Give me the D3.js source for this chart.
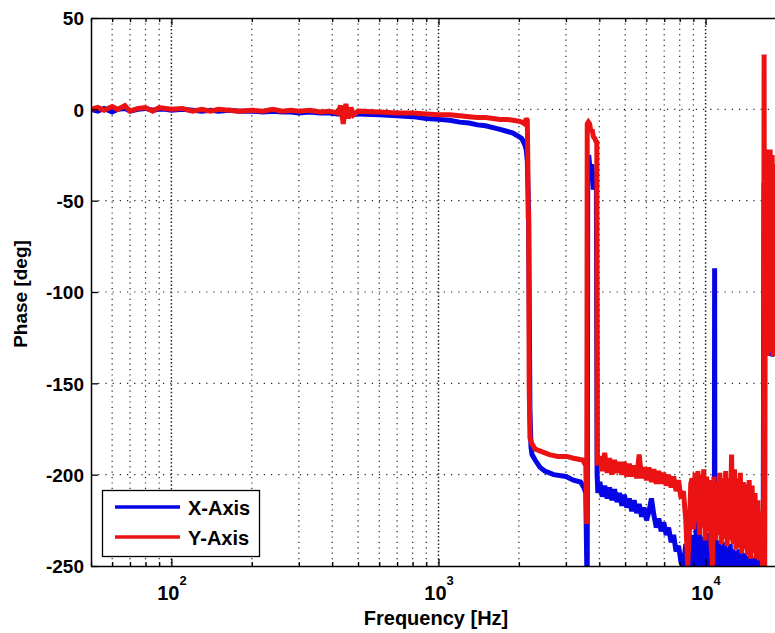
<!DOCTYPE html>
<html><head><meta charset="utf-8">
<script src="https://cdn.jsdelivr.net/npm/d3@7/dist/d3.min.js"></script>
<style>body{margin:0;background:#fff}svg{display:block}</style>
</head><body>
<svg id="chart" width="775" height="633"></svg>
<script>
// ---------- data ----------
const xAxisFreq = [50,53,56,60,63,67,70,75,80,85,90,95,100,110,120,130,140,150,165,180,200,220,240,260,280,300,330,360,390,420,440,460,480,500,600,700,800,900,1000,1100,1200,1300,1400,1500,1600,1700,1800,1900,2000,2050,2100,2130,2150,2165,2175,2185,2200,2220,2240,2300,2400,2500,2700,3000,3200,3400,3500,3560,3590,3605,3620,3650,3700,3750,3800,3850,3900,3925,3950,
  4018,4100,4190,4280,4370,4460,4560,4660,4760,4860,4960,5070,5180,5290,5400,5520,5640,5760,5880,6010,6140,6270,6400,6540,6680,6820,6970,7120,7270,7430,7590,7750,7920,8090,8260,8430,8570,8700,
  8900,9010,9130,9240,9360,9480,9600,9720,9840,9970,10100,10230,10350,10480,10620,10750,10780,10810,10840,10890,11030,11170,11310,11450,11600,11740,11890,12040,12200,12350,12510,12670,12830,12990,13160,13320,13490,13660,13840,14010,14190,14370,14560,14740,14930,15120,15310,15500,15700,15900,16100,16300,16420,
  16550,16650,16750,16850,16950,17100,17300,17500,17700,18000,18500,19000,20000];
const xAxisPhase = [0,-1,0.5,-1.5,0,0.5,-1,0,0.5,-0.5,0,0,-0.5,0,-0.5,-1,-0.5,-1,-0.5,-1,-1,-1.5,-1,-1.5,-1.5,-2,-1.5,-2,-2,-2.5,-3,-2,-3,-2.5,-3,-3.5,-4,-5,-5.5,-6,-7,-7.5,-8.5,-9,-10,-11,-12,-13,-15,-16,-19,-22,-28,-45,-60,-100,-165,-185,-189,-192,-196,-198,-200,-201,-203,-204,-207,-210,-250,-250,-40,-25,-34,-30,-44,-35,-40,-200,-210,
  -204,-212,-206,-213,-207,-214,-208,-215,-210,-217,-211,-218,-213,-220,-214,-221,-216,-223,-218,-225,-220,-213,-222,-229,-224,-231,-226,-233,-229,-237,-233,-242,-239,-248,-250,-238,-250,-240,
  -250,-233,-250,-226,-250,-231,-250,-234,-250,-236,-250,-232,-250,-237,-250,-235,-250,-87,-250,-238,-250,-236,-250,-239,-250,-237,-250,-240,-250,-238,-250,-241,-250,-242,-250,-241,-250,-244,-250,-243,-250,-245,-250,-244,-250,-246,-250,-245,-250,-247,-250,-248,-250,
  -40,-78,-45,-75,-50,-70,-133,-130,-135,-133,-130,-135,-130];

const yAxisFreq = [50,53,56,60,63,67,70,75,80,85,90,95,100,110,120,130,140,150,165,180,200,220,240,260,280,300,330,360,390,420,430,440,450,460,470,480,500,600,700,800,900,1000,1100,1200,1300,1400,1500,1600,1700,1800,1900,2000,2050,2100,2130,2150,2160,2168,2175,2185,2200,2236,2300,2394,2600,2800,3020,3200,3467,3560,3590,3605,3640,3680,3720,3760,3800,3850,3900,3915,3930,3950,
  4018,4100,4190,4280,4370,4460,4560,4660,4760,4860,4960,5070,5180,5290,5400,5520,5640,5760,5880,6010,6140,6270,6400,6540,6680,6820,6970,7120,7270,7430,7590,7750,7920,8090,8260,8430,8570,8700,8800,
  8900,9010,9130,9240,9360,9480,9600,9720,9840,9970,10100,10230,10350,10480,10620,10750,10890,11030,11170,11310,11450,11600,11740,11890,12040,12200,12350,12510,12670,12830,12990,13160,13320,13490,13660,13840,14010,14190,14370,14560,14740,14930,15120,15310,15500,15700,15900,16100,16300,16420,
  16480,16560,16650,16750,16850,16950,17050,17150,17300,17450,17600,17750,17900,18050,18300,18600,19000,20000];
const yAxisPhase = [0,1,-0.5,1.5,0,2,-1,0.5,1,-1,1,0.5,0,0.5,-1,0,-1,0,-0.5,-1,-0.5,-1,0,-1,-0.5,-1,-0.5,-1.5,-1,-2,2,-8,3,-5,1,-3,-1,-1.5,-2,-2,-2.5,-3,-3,-3.5,-4,-4.5,-4.5,-5,-5.5,-5.5,-6,-6.5,-7,-8,-5,-6,-30,-60,-55,-150,-180,-183,-186,-187,-189,-190,-190,-191,-192,-195,-227,-8,-7,-8,-12,-11,-15,-16,-18,-17,-195,-192,
  -190,-198,-188,-199,-191,-200,-192,-199,-193,-200,-193,-201,-194,-201,-195,-202,-189,-202,-196,-203,-196,-204,-197,-205,-198,-205,-199,-206,-200,-207,-201,-209,-203,-213,-209,-225,-250,-230,-205,
  -202,-230,-199,-226,-198,-233,-200,-229,-197,-236,-201,-231,-203,-238,-250,-201,-236,-204,-233,-199,-238,-202,-235,-198,-239,-202,-236,-189,-238,-197,-241,-202,-240,-199,-243,-204,-241,-205,-244,-203,-246,-206,-243,-210,-246,-214,-247,-220,-249,-250,
  -250,30,-250,-25,-130,-22,-135,-25,-130,-22,-133,-25,-135,-30,-120,-40,-110,-50];

const seriesNames = ["X-Axis", "Y-Axis"];
const seriesColors = ["#0505e6", "#ea1212"];
const yTickValues = [50, 0, -50, -100, -150, -200, -250];
const xDecades = [100, 1000, 10000];
const xMinorTicks = [50,60,70,80,90,200,300,400,500,600,700,800,900,2000,3000,4000,5000,6000,7000,8000,9000,20000];
const xLabel = "Frequency [Hz]";
const yLabel = "Phase [deg]";

// ---------- layout ----------
const svg = d3.select("#chart");
const FONT = "'Liberation Sans', Arial, Helvetica, sans-serif";
const L = 91, T = 18, B = 566, R = 786;
const x = d3.scaleLog().domain([50, 20000]).range([L, R]);
const y = d3.scaleLinear().domain([-250, 50]).range([B, T]);

svg.append("rect").attr("width", 775).attr("height", 633).attr("fill", "#fff");
svg.append("defs").append("clipPath").attr("id", "plotclip")
  .append("rect").attr("x", L).attr("y", T).attr("width", R - L).attr("height", B - T);

// grid
const grid = svg.append("g").attr("stroke", "#222").attr("stroke-width", 1.2).attr("fill", "none");
grid.selectAll("line.vmin").data(xMinorTicks.filter(d => d > 50)).join("line")
  .attr("x1", d => x(d)).attr("x2", d => x(d)).attr("y1", T).attr("y2", B)
  .attr("stroke-dasharray", "1.2,4.2");
grid.selectAll("line.vmaj").data(xDecades).join("line")
  .attr("x1", d => x(d)).attr("x2", d => x(d)).attr("y1", T).attr("y2", B)
  .attr("stroke-width", 1.5).attr("stroke-dasharray", "1.5,2.2");
grid.selectAll("line.h").data(yTickValues.filter(d => d > -250 && d < 50)).join("line")
  .attr("x1", L).attr("x2", R).attr("y1", d => y(d)).attr("y2", d => y(d))
  .attr("stroke-dasharray", "1.2,6");

// data lines
const n0 = Math.min(xAxisFreq.length, xAxisPhase.length);
const n1 = Math.min(yAxisFreq.length, yAxisPhase.length);
const series = [
  d3.zip(xAxisFreq.slice(0, n0), xAxisPhase.slice(0, n0)),
  d3.zip(yAxisFreq.slice(0, n1), yAxisPhase.slice(0, n1))
];
const line = d3.line().x(d => x(d[0])).y(d => y(d[1]));
const plot = svg.append("g").attr("clip-path", "url(#plotclip)");
series.forEach((s, i) => {
  plot.append("path").datum(s).attr("d", line)
    .attr("fill", "none").attr("stroke", seriesColors[i])
    .attr("stroke-width", 5).attr("stroke-linejoin", "miter").attr("stroke-miterlimit", 2);
});

// axes
function styleAxis(g) {
  g.selectAll(".domain").attr("stroke", "#000").attr("stroke-width", 1.5);
  g.selectAll(".tick line").attr("stroke", "#000").attr("stroke-width", 1.3);
  g.selectAll("text").attr("font-family", FONT).attr("font-weight", "bold").attr("fill", "#000");
}
const yAxis = svg.append("g").attr("transform", `translate(${L},0)`)
  .call(d3.axisLeft(y).tickValues(yTickValues).tickSizeInner(-7).tickSizeOuter(0).tickPadding(7).tickFormat(d => String(d)))
  .call(styleAxis);
yAxis.selectAll("text").attr("font-size", 19).attr("dy", "0.36em");

svg.append("g").attr("transform", `translate(0,${B})`)
  .call(d3.axisBottom(x).tickValues(xMinorTicks).tickSizeInner(-4).tickSizeOuter(0).tickFormat(""))
  .call(styleAxis);
const xAxis = svg.append("g").attr("transform", `translate(0,${B})`)
  .call(d3.axisBottom(x).tickValues(xDecades).tickSizeInner(-7).tickSizeOuter(0).tickFormat(""))
  .call(styleAxis);
xAxis.selectAll(".domain").remove();
xAxis.selectAll(".tick").append("text")
  .attr("y", 34).attr("text-anchor", "middle")
  .attr("font-family", FONT).attr("font-weight", "bold").attr("font-size", 20).attr("fill", "#000")
  .each(function(d) {
    const t = d3.select(this);
    t.append("tspan").text("10");
    t.append("tspan").attr("font-size", 13).attr("dy", -15).text(String(Math.round(Math.log10(d))));
  });

svg.append("g").attr("transform", `translate(0,${T})`)
  .call(d3.axisTop(x).tickValues(xMinorTicks).tickSizeInner(-4).tickSizeOuter(0).tickFormat(""))
  .call(styleAxis);
const topMajor = svg.append("g").attr("transform", `translate(0,${T})`)
  .call(d3.axisTop(x).tickValues(xDecades).tickSizeInner(-7).tickSizeOuter(0).tickFormat(""))
  .call(styleAxis);
topMajor.selectAll(".domain").remove();

// axis titles
svg.append("text").attr("x", 436).attr("y", 625).attr("text-anchor", "middle")
  .attr("font-family", FONT).attr("font-weight", "bold").attr("font-size", 20).text(xLabel);
svg.append("text").attr("transform", "translate(27,294) rotate(-90)").attr("text-anchor", "middle")
  .attr("font-family", FONT).attr("font-weight", "bold").attr("font-size", 19).text(yLabel);

// legend
const lg = svg.append("g");
lg.append("rect").attr("x", 102.5).attr("y", 490.5).attr("width", 157).attr("height", 66)
  .attr("fill", "#fff").attr("stroke", "#000").attr("stroke-width", 1.3);
seriesNames.forEach((n, i) => {
  const yy = 507 + i * 30;
  lg.append("line").attr("x1", 115).attr("x2", 180).attr("y1", yy).attr("y2", yy)
    .attr("stroke", seriesColors[i]).attr("stroke-width", 3.5);
  lg.append("text").attr("x", 188).attr("y", yy + 8).attr("font-family", FONT)
    .attr("font-weight", "bold").attr("font-size", 20).text(n);
});
</script>
</body></html>
